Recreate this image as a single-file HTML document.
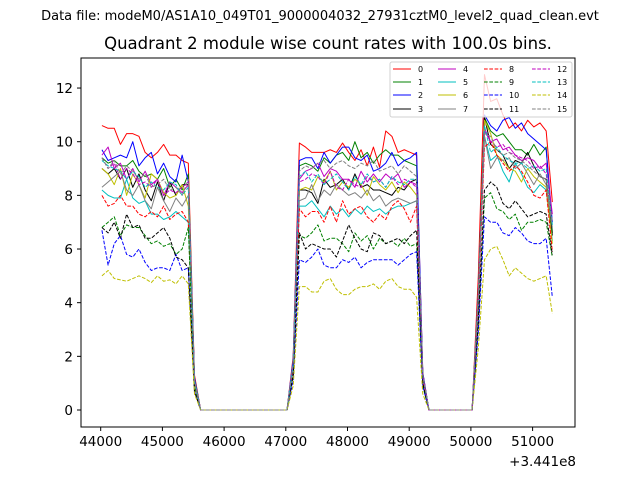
<!DOCTYPE html>
<html>
<head>
<meta charset="utf-8">
<style>
html,body{margin:0;padding:0;background:#fff;}
svg{display:block;font-family:"DejaVu Sans","Liberation Sans",sans-serif;}
</style>
</head>
<body>
<svg id="chart" width="640" height="480" viewBox="0 0 640 480" xmlns="http://www.w3.org/2000/svg">
  <rect x="0" y="0" width="640" height="480" fill="#fff"/>
  <text x="320" y="20" font-size="13" text-anchor="middle" fill="#000">Data file: modeM0/AS1A10_049T01_9000004032_27931cztM0_level2_quad_clean.evt</text>
  <text x="328" y="49" font-size="16.5" text-anchor="middle" fill="#000">Quadrant 2 module wise count rates with 100.0s bins.</text>
  <defs><clipPath id="plotclip"><rect x="81" y="58" width="494" height="369"/></clipPath></defs>
  <g id="series" clip-path="url(#plotclip)"></g>
  <g id="axes"></g>
  <g id="legend"></g>
</svg>
<script>
const startTime = 44020;
const binSize = 100;
const xTicks = [44000,45000,46000,47000,48000,49000,50000,51000];
const xTickLabels = ["44000","45000","46000","47000","48000","49000","50000","51000"];
const yTicks = [0,2,4,6,8,10,12];
const seriesNames = ["0","1","2","3","4","5","6","7","8","9","10","11","12","13","14","15"];
const seriesColors = ["#ff0000","#008000","#0000ff","#000000","#bf00bf","#00bfbf","#bfbf00","#808080","#ff0000","#008000","#0000ff","#000000","#bf00bf","#00bfbf","#bfbf00","#808080"];
const seriesDashed = [false,false,false,false,false,false,false,false,true,true,true,true,true,true,true,true];

const s0 = [10.6,10.5,10.5,9.9,10.3,10.3,10.2,9.6,9.4,9.6,9.9,9.5,9.5,9.3,9.2, 1.3, 0,0,0,0,0,0,0,0,0,0,0,0,0,0,0, 2.0, 9.95,9.8,9.6,9.6,9.6,9.7,9.6,9.95,9.6,9.3,9.7,9.1,9.8,9.05,10.4,10.2,9.6,9.7,9.6,9.5, 1.4, 0,0,0,0,0,0,0,0, 5.0, 12.5,11.5,11.6,11.0,10.5,10.7,10.4,10.8,10.55,10.7,10.4, 7.75];
const s1 = [9.4,9.2,9.3,9.1,9.1,9.3,8.9,8.7,8.8,8.6,9.0,8.3,8.6,8.2,8.8, 1.2, 0,0,0,0,0,0,0,0,0,0,0,0,0,0,0, 1.8, 9.1,9.2,9.1,8.9,9.4,9.2,9.5,9.6,9.3,10.0,9.4,9.6,9.2,9.5,9.7,9.5,9.5,9.3,9.2,9.1, 1.3, 0,0,0,0,0,0,0,0, 4.4, 10.9,10.4,10.2,10.3,10.0,9.7,9.7,9.5,9.9,9.5,9.8, 6.6];
const s2 = [9.7,9.3,9.4,9.5,9.4,10.0,9.1,9.4,9.6,8.8,9.2,8.7,8.5,9.5,8.5, 1.2, 0,0,0,0,0,0,0,0,0,0,0,0,0,0,0, 1.9, 9.3,9.4,9.4,9.0,9.6,9.2,9.5,9.8,9.8,9.4,9.3,9.5,8.9,9.0,9.2,9.6,9.1,9.3,9.4,9.6, 1.4, 0,0,0,0,0,0,0,0, 4.4, 11.0,10.6,10.4,10.8,10.9,10.5,10.7,10.3,10.1,9.9,9.7, 7.0];
const s3 = [9.0,8.8,9.0,8.6,9.0,8.3,8.8,8.2,7.8,8.5,7.8,8.5,8.0,8.4,8.4, 1.1, 0,0,0,0,0,0,0,0,0,0,0,0,0,0,0, 1.7, 8.2,8.2,8.1,7.7,8.6,8.3,8.4,8.6,8.2,8.8,8.3,8.4,8.2,8.2,8.1,8.0,8.3,8.2,8.5,8.6, 1.3, 0,0,0,0,0,0,0,0, 4.3, 10.9,9.9,9.7,9.5,9.0,9.3,9.2,9.6,9.1,8.7,8.6, 6.5];
const s4 = [9.5,9.8,9.0,9.2,8.6,9.0,8.5,8.9,8.4,8.6,8.0,8.5,8.3,8.1,8.4, 1.1, 0,0,0,0,0,0,0,0,0,0,0,0,0,0,0, 1.7, 8.6,8.9,9.0,9.2,8.7,9.0,8.9,8.6,8.6,8.3,8.9,8.5,8.8,8.5,8.8,8.6,8.8,8.3,8.5,8.4, 1.3, 0,0,0,0,0,0,0,0, 4.2, 10.5,10.0,10.1,9.7,9.8,9.5,9.3,9.4,9.3,9.0,9.2, 7.3];
const s5 = [8.2,8.0,7.9,7.9,8.6,7.9,7.7,7.8,7.3,7.3,7.1,7.2,7.4,7.2,7.0, 1.0, 0,0,0,0,0,0,0,0,0,0,0,0,0,0,0, 1.5, 7.6,7.6,7.8,7.5,7.2,7.6,7.3,7.5,7.2,7.5,7.3,7.6,7.4,7.5,7.3,7.5,7.6,7.6,7.7,7.8, 1.2, 0,0,0,0,0,0,0,0, 4.1, 10.2,9.3,9.5,8.9,8.5,9.2,8.8,8.3,8.1,8.4,8.2, 6.3];
const s6 = [9.0,8.8,8.4,9.0,8.0,8.8,8.4,7.9,8.8,8.6,8.1,7.9,8.0,8.4,7.6, 1.0, 0,0,0,0,0,0,0,0,0,0,0,0,0,0,0, 1.6, 8.2,8.3,8.2,8.7,8.5,8.9,8.2,8.5,8.3,8.6,8.4,8.0,8.7,8.4,8.2,8.5,8.1,8.5,8.3,8.0, 1.2, 0,0,0,0,0,0,0,0, 4.3, 10.8,10.3,9.5,9.3,9.0,8.9,8.5,9.0,8.7,8.5,8.3, 6.2];
const s7 = [8.3,8.5,8.7,8.9,8.2,8.0,8.4,7.8,7.5,8.3,7.8,7.4,7.9,7.6,8.0, 1.1, 0,0,0,0,0,0,0,0,0,0,0,0,0,0,0, 1.6, 7.8,7.9,8.4,7.8,8.2,8.0,8.4,8.2,8.0,8.1,7.9,8.2,7.8,8.0,7.6,7.8,7.9,7.8,7.7,7.8, 1.2, 0,0,0,0,0,0,0,0, 4.1, 10.2,9.0,9.4,9.3,9.4,9.0,9.2,8.8,8.4,8.8,8.4, 6.8];
const s8 = [8.0,7.6,7.7,8.0,7.6,7.6,7.3,7.2,7.4,7.2,7.6,7.1,7.3,7.4,7.0, 0.9, 0,0,0,0,0,0,0,0,0,0,0,0,0,0,0, 1.5, 7.5,7.2,7.4,7.4,7.0,7.6,7.0,7.8,7.3,7.5,7.6,7.2,7.0,7.3,7.1,7.6,7.8,7.5,7.0,7.6, 1.1, 0,0,0,0,0,0,0,0, 3.9, 9.8,10.0,9.5,9.2,8.9,9.1,8.9,8.5,8.0,7.9,8.2, 5.9];
const s9 = [6.8,7.0,7.2,6.5,6.9,6.8,6.8,6.5,6.2,6.3,6.1,6.2,5.8,6.0,6.8, 0.9, 0,0,0,0,0,0,0,0,0,0,0,0,0,0,0, 1.3, 6.5,6.4,6.6,6.9,6.3,6.4,6.4,6.2,5.9,6.6,6.3,6.5,6.0,6.4,6.2,6.3,6.1,6.4,6.1,6.2, 0.9, 0,0,0,0,0,0,0,0, 3.2, 7.9,8.1,7.5,7.4,7.1,7.3,6.7,7.0,7.0,7.1,7.0, 5.7];
const s10 = [6.7,5.4,6.2,6.5,5.8,5.7,6.0,5.5,5.2,5.3,5.3,5.2,5.8,5.2,5.3, 0.7, 0,0,0,0,0,0,0,0,0,0,0,0,0,0,0, 1.1, 5.6,5.5,5.7,6.0,5.4,5.3,5.3,5.6,5.5,5.7,5.3,5.5,5.6,5.6,5.6,5.6,5.4,5.6,5.8,5.9, 0.9, 0,0,0,0,0,0,0,0, 2.9, 7.2,7.0,7.0,6.6,6.5,6.8,6.6,6.3,6.2,6.2,6.4, 4.2];
const s11 = [6.8,6.6,7.0,6.4,7.3,6.8,6.9,6.4,6.4,6.6,6.8,6.4,5.7,5.6,5.3, 0.7, 0,0,0,0,0,0,0,0,0,0,0,0,0,0,0, 1.3, 6.6,6.0,6.2,6.1,6.0,6.0,5.7,6.3,6.9,6.4,6.0,5.9,6.6,6.5,6.2,6.3,6.4,6.2,6.5,6.7, 1.0, 0,0,0,0,0,0,0,0, 3.3, 8.2,8.5,8.3,7.7,7.5,7.8,7.5,7.2,7.3,7.4,7.3, 5.8];
const s12 = [9.4,9.0,9.2,8.6,9.0,8.8,8.4,8.5,8.3,8.6,8.0,8.2,8.1,8.3,8.5, 1.1, 0,0,0,0,0,0,0,0,0,0,0,0,0,0,0, 1.7, 8.5,8.6,8.8,8.7,8.4,8.9,8.3,8.2,8.6,8.4,8.3,8.7,8.5,8.6,8.3,8.7,8.4,8.6,8.5,8.3, 1.3, 0,0,0,0,0,0,0,0, 4.2, 10.4,10.0,9.8,9.9,9.6,9.5,9.4,9.3,9.0,9.1,8.8, 7.0];
const s13 = [9.3,9.1,9.0,8.9,8.6,8.9,8.7,8.3,8.5,8.3,8.2,8.5,8.4,8.0,8.3, 1.1, 0,0,0,0,0,0,0,0,0,0,0,0,0,0,0, 1.7, 8.7,8.9,8.5,8.8,8.4,8.6,8.8,8.5,8.2,8.7,8.4,8.8,8.5,8.6,8.3,8.7,8.5,8.4,8.6,8.6, 1.3, 0,0,0,0,0,0,0,0, 4.2, 10.6,9.6,9.8,9.5,9.3,9.2,9.2,9.0,9.1,8.9,9.0, 6.9];
const s14 = [5.0,5.2,4.9,4.85,4.8,4.9,5.0,4.9,4.75,5.0,4.8,4.85,4.7,5.0,4.7, 0.6, 0,0,0,0,0,0,0,0,0,0,0,0,0,0,0, 0.9, 4.6,4.6,4.4,4.4,4.8,4.9,4.5,4.3,4.3,4.5,4.6,4.6,4.7,4.5,4.8,4.9,4.6,4.5,4.5,4.2, 0.6, 0,0,0,0,0,0,0,0, 2.3, 5.6,6.0,6.1,5.6,5.0,5.3,5.1,4.9,4.8,4.9,5.0, 3.6];
const s15 = [9.4,9.0,9.3,8.8,9.1,8.9,8.6,8.8,8.3,8.4,8.6,8.2,8.3,8.0,8.6, 1.1, 0,0,0,0,0,0,0,0,0,0,0,0,0,0,0, 1.8, 8.9,9.1,9.0,9.2,9.3,9.0,9.2,9.3,9.1,9.0,9.2,9.1,9.3,8.9,9.0,9.1,8.8,9.1,8.9,8.7, 1.3, 0,0,0,0,0,0,0,0, 4.2, 10.3,10.2,9.7,9.5,9.6,9.4,9.3,9.1,8.9,8.7,8.6, 7.0];
const seriesValues = [s0,s1,s2,s3,s4,s5,s6,s7,s8,s9,s10,s11,s12,s13,s14,s15];

const NS = "http://www.w3.org/2000/svg";
const plot = {left:81, right:575, top:58, bottom:427};
function xScale(t){ return 100.7 + (t - 44000) * 61.7 / 1000; }
function yScale(v){ return 410 - v * 26.83; }
function mk(tag, attrs, parent){
  const e = document.createElementNS(NS, tag);
  for (const k in attrs) e.setAttribute(k, attrs[k]);
  parent.appendChild(e);
  return e;
}

const gS = document.getElementById('series');
seriesValues.forEach((vals, i) => {
  const pts = vals.map((v, j) => xScale(startTime + j * binSize).toFixed(2) + ',' + yScale(v).toFixed(2)).join(' ');
  const pl = mk('polyline', {points: pts, fill: 'none', stroke: seriesColors[i], 'stroke-width': 1, 'stroke-linejoin': 'round'}, gS);
  if (seriesDashed[i]) pl.setAttribute('stroke-dasharray', '3.7,1.6');
  
  
});

const gA = document.getElementById('axes');
const frame = mk('rect', {x: plot.left, y: plot.top, width: plot.right - plot.left, height: plot.bottom - plot.top, fill: 'none', stroke: '#000', 'stroke-width': 1}, gA);


xTicks.forEach((t, i) => {
  const x = xScale(t);
  const tk = mk('line', {x1: x, x2: x, y1: plot.bottom, y2: plot.bottom + 4, stroke: '#000', 'stroke-width': 1}, gA);
  
  
  const lb = mk('text', {x: x, y: plot.bottom + 19, 'font-size': 13.5, 'text-anchor': 'middle', fill: '#000'}, gA);
  lb.textContent = xTickLabels[i];
  
  
});
yTicks.forEach(v => {
  const y = yScale(v);
  const tk = mk('line', {x1: plot.left - 4, x2: plot.left, y1: y, y2: y, stroke: '#000', 'stroke-width': 1}, gA);
  
  
  const lb = mk('text', {x: plot.left - 8, y: y + 5, 'font-size': 13.5, 'text-anchor': 'end', fill: '#000'}, gA);
  lb.textContent = String(v);
  
  
});
const off = mk('text', {x: 576, y: 466, 'font-size': 13.5, 'text-anchor': 'end', fill: '#000'}, gA);
off.textContent = '+3.441e8';



const gL = document.getElementById('legend');
const lbox = mk('rect', {x: 390, y: 62, width: 182, height: 55, rx: 2, fill: '#fff', 'fill-opacity': 0.8, stroke: '#d0d0d0', 'stroke-width': 1}, gL);


const colX = [393, 438, 484, 532];
const rowY = [69, 82, 95, 109];
seriesNames.forEach((n, i) => {
  const c = Math.floor(i / 4), r = i % 4;
  const ln = mk('line', {x1: colX[c], x2: colX[c] + 18, y1: rowY[r], y2: rowY[r], stroke: seriesColors[i], 'stroke-width': 1}, gL);
  if (seriesDashed[i]) ln.setAttribute('stroke-dasharray', '3.7,1.6');
  
  
  const tx = mk('text', {x: colX[c] + 25, y: rowY[r] + 3, 'font-size': 8, fill: '#000'}, gL);
  tx.textContent = n;
  
  
});
</script>
</body>
</html>
